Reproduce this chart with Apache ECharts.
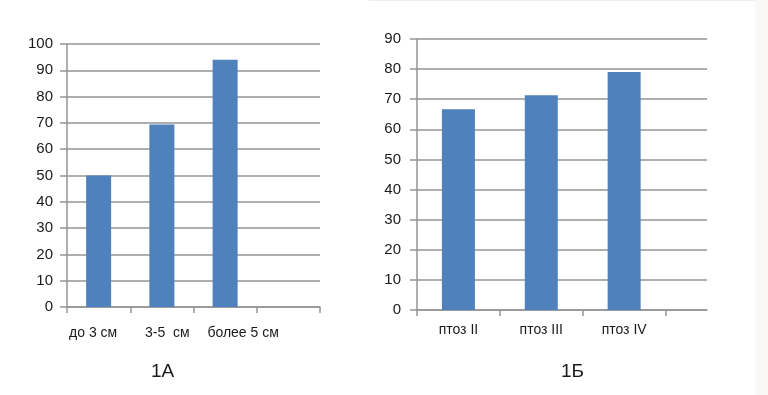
<!DOCTYPE html>
<html><head><meta charset="utf-8">
<script src="https://cdn.jsdelivr.net/npm/echarts@6/dist/echarts.min.js"></script>
<style>html,body{margin:0;padding:0;background:#fff}#c{width:768px;height:395px}</style>
</head><body><div id="c"></div>
<script>
// Chart 1А
const catsA = ['до 3 см', '3-5  см', 'более 5 см', ''];
const valsA = [50, 69.4, 94, null];
const ticksA = [0, 10, 20, 30, 40, 50, 60, 70, 80, 90, 100];
// Chart 1Б
const catsB = ['птоз II', 'птоз III', 'птоз IV'];
const valsB = [66.7, 71.3, 79];
const ticksB = [0, 10, 20, 30, 40, 50, 60, 70, 80, 90];

const FONT = 'Liberation Sans';
const GRAY = '#959595';
const BLUE = '#4f81bd';
const TXT = '#1a1a1a';

// Half-slot category layout for 1Б: positions 0, .5, 1, ... 3.5 slots
const halfB = [];
const halfValsB = [];
for (let i = 0; i < catsB.length; i++) {
  halfB.push('t' + i); halfValsB.push(null);
  halfB.push(catsB[i]); halfValsB.push(valsB[i]);
}
halfB.push('t' + catsB.length); halfValsB.push(null);
halfB.push('end'); halfValsB.push(null);

const labelShiftA = ['a0', 'a1', 'a2', 'a3'];
const lbl = { fontFamily: FONT, fontSize: 14, color: TXT };

const chart = echarts.init(document.getElementById('c'));
chart.setOption({
  backgroundColor: '#fff',
  animation: false,
  graphic: [
    { type: 'rect', shape: { x: 755, y: 0, width: 13, height: 395 }, style: { fill: '#f9f8f6' }, silent: true },
    { type: 'line', shape: { x1: 369, y1: 0.5, x2: 755, y2: 0.5 }, style: { stroke: '#eeeeee', lineWidth: 1 }, silent: true }
  ],
  title: [
    { text: '1А', left: 146, top: 357, textStyle: { fontFamily: FONT, fontSize: 19, fontWeight: 'normal', color: TXT } },
    { text: '1Б', left: 556, top: 357, textStyle: { fontFamily: FONT, fontSize: 19, fontWeight: 'normal', color: TXT } }
  ],
  grid: [
    { left: 67, right: 448, top: 44, bottom: 88 },
    { left: 417, right: 61, top: 39, bottom: 85 }
  ],
  xAxis: [
    {
      type: 'category', gridIndex: 0, data: catsA,
      axisLine: { lineStyle: { color: GRAY, width: 1.5 } },
      axisTick: { show: true, length: 6, lineStyle: { color: GRAY, width: 1.5 } },
      axisLabel: {
        interval: 0, margin: 19, fontFamily: FONT, fontSize: 14, color: TXT,
        formatter: (v, i) => '{' + labelShiftA[i] + '|' + v + '}',
        rich: {
          a0: Object.assign({ padding: [0, 11, 0, 0] }, lbl),
          a1: Object.assign({ padding: [0, 0, 0, 11] }, lbl),
          a2: Object.assign({ padding: [0, 0, 0, 36] }, lbl),
          a3: lbl
        }
      }
    },
    {
      type: 'category', gridIndex: 1, data: halfB, boundaryGap: false,
      axisLine: { lineStyle: { color: GRAY, width: 1.5 } },
      axisTick: { show: true, length: 6, lineStyle: { color: GRAY, width: 1.5 },
        interval: (i) => i % 2 === 0 && i < halfB.length - 1 },
      axisLabel: {
        margin: 13, fontFamily: FONT, fontSize: 14, color: TXT,
        interval: (i) => i % 2 === 1 && i < halfB.length - 1
      },
      splitLine: { show: false }
    }
  ],
  yAxis: [
    {
      type: 'value', gridIndex: 0, min: ticksA[0], max: ticksA[ticksA.length - 1], interval: ticksA[1] - ticksA[0],
      axisLine: { show: true, lineStyle: { color: GRAY, width: 1.5 } },
      axisTick: { show: true, length: 7, lineStyle: { color: GRAY, width: 1.5 } },
      axisLabel: { margin: 14, fontFamily: FONT, fontSize: 15, color: TXT },
      splitLine: { lineStyle: { color: GRAY, width: 1.5 } }
    },
    {
      type: 'value', gridIndex: 1, min: ticksB[0], max: ticksB[ticksB.length - 1], interval: ticksB[1] - ticksB[0],
      axisLine: { show: true, lineStyle: { color: GRAY, width: 1.5 } },
      axisTick: { show: true, length: 7, lineStyle: { color: GRAY, width: 1.5 } },
      axisLabel: { margin: 16, fontFamily: FONT, fontSize: 15, color: TXT },
      splitLine: { lineStyle: { color: GRAY, width: 1.5 } }
    }
  ],
  series: [
    { type: 'bar', xAxisIndex: 0, yAxisIndex: 0, data: valsA, barWidth: 25,
      itemStyle: { color: BLUE } },
    { type: 'bar', xAxisIndex: 1, yAxisIndex: 1, data: halfValsB, barWidth: 33,
      itemStyle: { color: BLUE } }
  ]
});
</script></body></html>
